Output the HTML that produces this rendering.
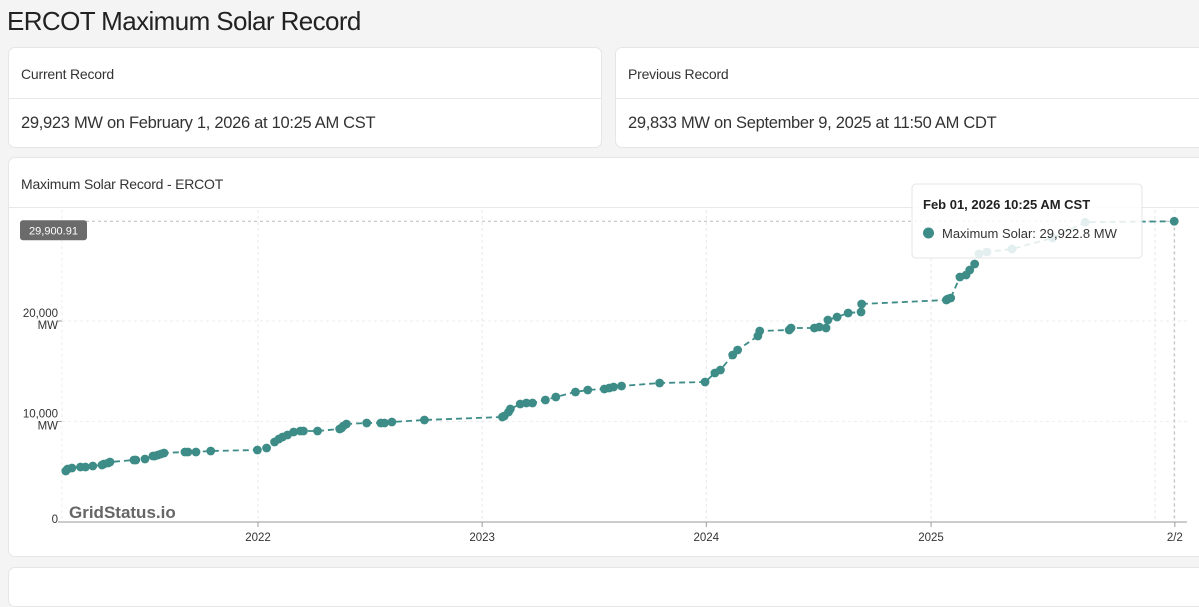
<!DOCTYPE html>
<html><head><meta charset="utf-8">
<style>
*{box-sizing:border-box;margin:0;padding:0}
body{width:1199px;height:582px;overflow:hidden;background:#f4f4f4;font-family:"Liberation Sans",sans-serif;color:#222;position:relative}
.card{position:absolute;background:#fff;border:1px solid #e6e6e6;border-radius:7px}
.hd{position:absolute;left:12px;font-size:14px;color:#333;letter-spacing:-0.2px}
.dv{position:absolute;left:0;right:0;height:1px;background:#e8e8e8}
.bd{position:absolute;left:12px;font-size:16.5px;color:#333;letter-spacing:-0.3px}
</style></head><body>
<div style="position:absolute;left:7px;top:6px;font-size:26px;color:#222;letter-spacing:-0.6px">ERCOT Maximum Solar Record</div>

<div class="card" style="left:8px;top:47px;width:594px;height:101px">
 <div class="hd" style="top:18px">Current Record</div>
 <div class="dv" style="top:50px"></div>
 <div class="bd" style="top:66px">29,923 MW on February 1, 2026 at 10:25 AM CST</div>
</div>
<div class="card" style="left:615px;top:47px;width:600px;height:101px">
 <div class="hd" style="top:18px">Previous Record</div>
 <div class="dv" style="top:50px"></div>
 <div class="bd" style="top:66px">29,833 MW on September 9, 2025 at 11:50 AM CDT</div>
</div>
<div class="card" style="left:8px;top:157px;width:1205px;height:400px">
 <div class="hd" style="top:18px">Maximum Solar Record - ERCOT</div>
 <div class="dv" style="top:49px"></div>
</div>
<div class="card" style="left:8px;top:567px;width:1205px;height:40px"></div>

<svg id="chart" width="1199" height="582" style="position:absolute;left:0;top:0" font-family="Liberation Sans, sans-serif"></svg>

<script>
const dates=["2021-02-22","2021-02-25","2021-03-04","2021-03-18","2021-03-26","2021-04-07","2021-04-22","2021-04-25","2021-05-02","2021-05-05","2021-06-13","2021-06-16","2021-07-01","2021-07-14","2021-07-17","2021-07-22","2021-07-27","2021-08-01","2021-09-04","2021-09-09","2021-09-22","2021-10-16","2021-12-31","2022-01-15","2022-01-28","2022-02-04","2022-02-10","2022-02-18","2022-02-28","2022-03-11","2022-03-16","2022-04-08","2022-05-14","2022-05-17","2022-05-20","2022-05-25","2022-06-27","2022-07-20","2022-07-26","2022-08-07","2022-09-29","2023-02-03","2023-02-06","2023-02-13","2023-02-16","2023-03-04","2023-03-14","2023-03-24","2023-04-14","2023-05-01","2023-06-02","2023-06-22","2023-07-19","2023-07-27","2023-08-03","2023-08-16","2023-10-17","2023-12-30","2024-01-15","2024-01-24","2024-02-13","2024-02-21","2024-03-25","2024-03-28","2024-05-15","2024-05-18","2024-06-25","2024-07-03","2024-07-14","2024-07-17","2024-08-01","2024-08-19","2024-09-09","2024-09-10","2025-01-26","2025-01-28","2025-02-02","2025-02-17","2025-02-27","2025-03-05","2025-03-13","2025-03-20","2025-04-02","2025-05-13","2025-07-18","2025-09-09","2026-02-01"];
const values=[5075,5274,5373,5473,5473,5572,5672,5771,5871,5970,6169,6169,6269,6567,6567,6667,6766,6866,6965,6965,6965,7065,7164,7363,7960,8259,8458,8657,8955,9055,9055,9055,9254,9353,9552,9751,9851,9851,9851,9950,10149,10448,10547,10945,11244,11741,11841,11841,12139,12438,12935,13134,13234,13333,13433,13532,13831,13930,14826,15124,16617,17114,18507,19005,19104,19303,19303,19403,19303,20099,20398,20796,20895,21691,22089,22189,22288,24378,24577,25074,25671,26666,26865,27164,28258,29833,29923];
const yTicks=[0,10000,20000];
const xTickLabels=["2022","2023","2024","2025","2/2"];
const xTickDates=["2022-01-01","2023-01-01","2024-01-01","2025-01-01","2026-02-02"];
const crossLabel="29,900.91";
const tipTitle="Feb 01, 2026 10:25 AM CST";
const tipText="Maximum Solar: 29,922.8 MW";

const NS="http://www.w3.org/2000/svg";
const svg=document.getElementById('chart');
const t0=Date.UTC(2022,0,1), DAY=86400000;
function yr(d){const p=d.split('-').map(Number);return 2022+(Date.UTC(p[0],p[1]-1,p[2])-t0)/DAY/365.25;}
const X=d=>258+(yr(d)-2022)*224.3;
const Y=v=>522-v*0.01005;
function el(tag,a,parent){const e=document.createElementNS(NS,tag);for(const k in a)e.setAttribute(k,a[k]);(parent||svg).appendChild(e);return e;}
const L=62,R=1187;
yTicks.forEach(v=>{
 if(v>0){const g=el('line',{x1:L,x2:R,y1:Y(v),y2:Y(v),stroke:'#eee','stroke-dasharray':'3,3'});
 
 }
 const t=el('text',{x:58,y:Y(v)-(v?4:-1),'text-anchor':'end','font-size':11.5,fill:'#333'});
 
 
 if(v){t.innerHTML='<tspan x="58">'+v.toLocaleString('en-US')+'</tspan><tspan x="58" dy="12">MW</tspan>';}else t.textContent='0';
 el('line',{x1:L-4,x2:L,y1:Y(v),y2:Y(v),stroke:'#999'});
});
xTickDates.forEach((d,i)=>{
 const x=X(d);
 const g=el('line',{x1:x,x2:x,y1:210,y2:522,stroke:'#e8e8e8','stroke-dasharray':'3,3'});
 
 
 el('line',{x1:x,x2:x,y1:522,y2:527,stroke:'#999'});
 const t=el('text',{x:x,y:541,'text-anchor':'middle','font-size':11.5,fill:'#333'});
 
 
 t.textContent=xTickLabels[i];
});
el('line',{x1:L,x2:L,y1:210,y2:522,stroke:'#eee','stroke-dasharray':'3,3'});
el('line',{x1:1155,x2:1155,y1:210,y2:522,stroke:'#e4e4e4','stroke-dasharray':'3,3'});
const ax=el('line',{x1:L,x2:R,y1:522,y2:522,stroke:'#999'});


const wm=el('text',{x:69,y:518,'font-size':17,'font-weight':'bold',fill:'#666'});


wm.textContent='GridStatus.io';
const last=dates.length-1;
const cx=X(dates[last]),cy=Y(values[last]);
el('line',{x1:L,x2:cx,y1:cy,y2:cy,stroke:'#bbb','stroke-dasharray':'3,3'});
el('line',{x1:cx,x2:cx,y1:cy,y2:522,stroke:'#bbb','stroke-dasharray':'3,3'});
const pts=dates.map((d,i)=>X(d).toFixed(1)+','+Y(values[i]).toFixed(1)).join(' ');
const ln=el('polyline',{points:pts,fill:'none',stroke:'#3d8c87','stroke-width':1.8,'stroke-dasharray':'6,4'});


dates.forEach((d,i)=>{
 const c=el('circle',{cx:X(d),cy:Y(values[i]),r:4.4,fill:'#3d8c87'});
 
 
});
const bg=el('rect',{x:20,y:cy-1,width:67,height:20,rx:3,fill:'#6b6b6b'});


const ct=el('text',{x:53.5,y:cy+13,'text-anchor':'middle','font-size':11,fill:'#fff'});
ct.textContent=crossLabel;
const tg=el('g',{});


el('rect',{x:912,y:184,width:230,height:74,rx:4,fill:'rgba(255,255,255,0.86)',stroke:'#e4e4e4'},tg);
const tt=el('text',{x:923,y:209,'font-size':13,'font-weight':'bold',fill:'#222'},tg);tt.textContent=tipTitle;
el('circle',{cx:928.5,cy:233,r:5.5,fill:'#3d8c87'},tg);
const tx=el('text',{x:942,y:238,'font-size':13,fill:'#333'},tg);tx.textContent=tipText;
</script>
</body></html>
